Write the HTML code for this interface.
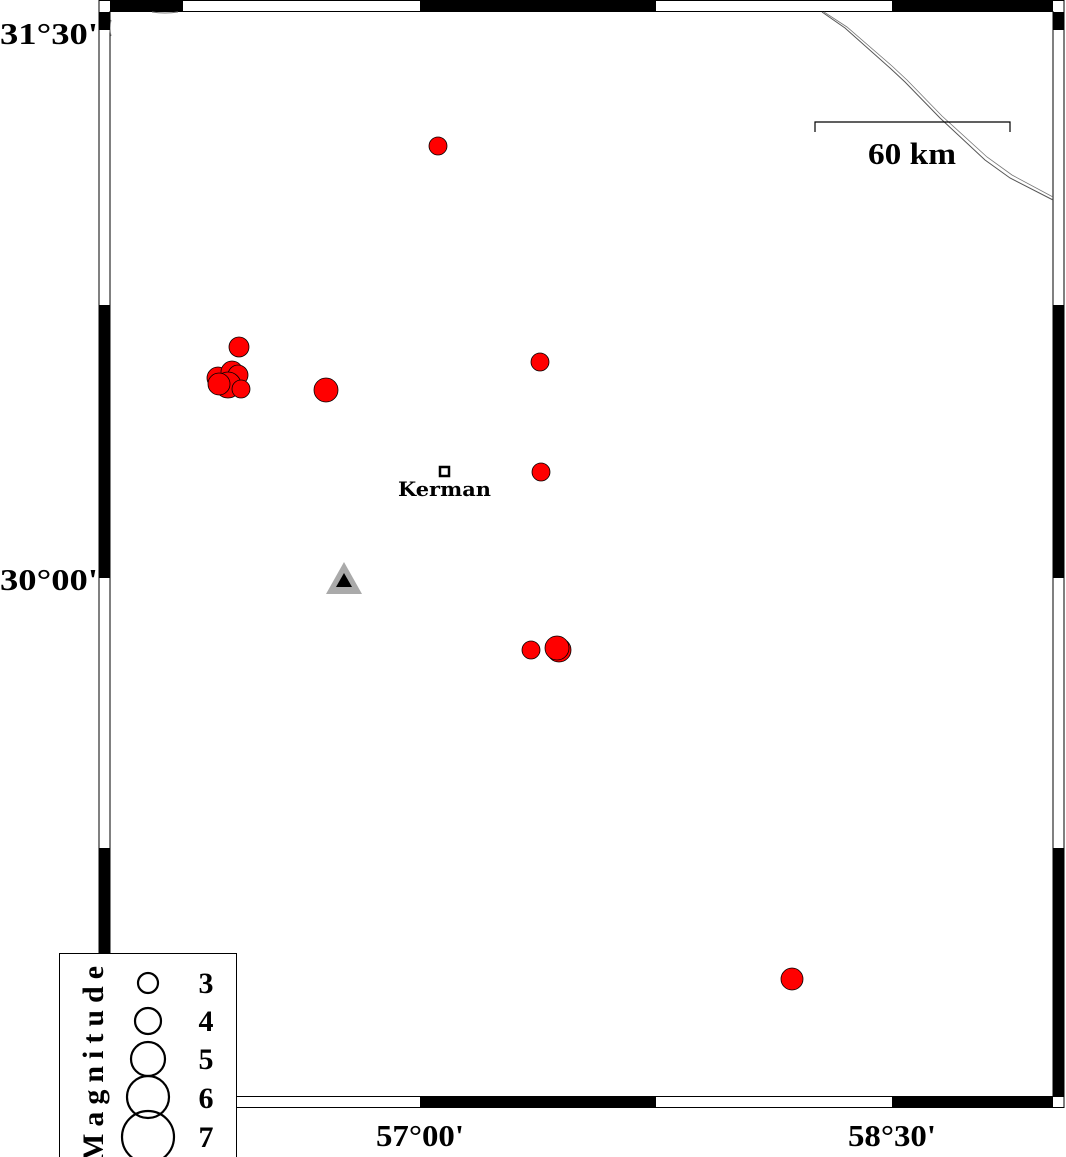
<!DOCTYPE html>
<html><head><meta charset="utf-8"><style>html,body{margin:0;padding:0;background:#fff}svg{display:block}.lab{font-family:"Liberation Serif",serif;font-weight:bold}</style></head>
<body>
<svg width="1066" height="1157" viewBox="0 0 1066 1157" xmlns="http://www.w3.org/2000/svg">
<rect width="1066" height="1157" fill="#fff"/>
<g stroke="#000" stroke-width="1">
<rect x="99" y="0.5" width="965" height="1107" fill="#fff"/>
<rect x="110" y="11.5" width="943" height="1085" fill="none"/>
</g>
<path d="M822,12 L845,28 L890,68 L905,82 L940,118 L985,160 L1010,178 L1053,200" fill="none" stroke="#555" stroke-width="1"/>
<path d="M824,12 L847,27 L892,66 L907,80 L942,116 L987,157 L1012,175 L1053,197" fill="none" stroke="#777" stroke-width="0.8"/>
<path d="M152,12 Q165,14 178,12" fill="none" stroke="#777" stroke-width="1"/>
<path d="M111,20 Q109,28 111,36" fill="none" stroke="#777" stroke-width="1"/>
<rect x="110" y="1" width="73" height="10" fill="#000"/>
<rect x="420" y="1" width="236" height="10" fill="#000"/>
<rect x="892" y="1" width="161" height="10" fill="#000"/>
<rect x="110" y="1097" width="73" height="10" fill="#000"/>
<rect x="420" y="1097" width="236" height="10" fill="#000"/>
<rect x="892" y="1097" width="161" height="10" fill="#000"/>
<rect x="99" y="12" width="11" height="18" fill="#000"/>
<rect x="99" y="305" width="11" height="273" fill="#000"/>
<rect x="99" y="848" width="11" height="249" fill="#000"/>
<rect x="1053" y="12" width="11" height="18" fill="#000"/>
<rect x="1053" y="305" width="11" height="273" fill="#000"/>
<rect x="1053" y="848" width="11" height="249" fill="#000"/>
<g class="lab" font-size="31" fill="#000">
<text x="0" y="44" textLength="98" lengthAdjust="spacingAndGlyphs">31°30'</text>
<text x="0" y="590" textLength="98" lengthAdjust="spacingAndGlyphs">30°00'</text>
<text x="376" y="1146" textLength="88" lengthAdjust="spacingAndGlyphs">57°00'</text>
<text x="848" y="1146" textLength="88" lengthAdjust="spacingAndGlyphs">58°30'</text>
<text x="868" y="164" textLength="88" lengthAdjust="spacingAndGlyphs">60 km</text>
</g>
<path d="M815,132 V122 H1010 V132" fill="none" stroke="#000" stroke-width="1.2"/>
<g fill="#f00" stroke="#000" stroke-width="0.8">
<circle cx="438" cy="146" r="9"/>
<circle cx="239" cy="347" r="10"/>
<circle cx="218" cy="378" r="11"/>
<circle cx="232" cy="372" r="11"/>
<circle cx="238" cy="375" r="10"/>
<circle cx="228" cy="385" r="13"/>
<circle cx="219" cy="384" r="11"/>
<circle cx="241" cy="389" r="9"/>
<circle cx="326" cy="390" r="12"/>
<circle cx="540" cy="362" r="9"/>
<circle cx="541" cy="472" r="9"/>
<circle cx="531" cy="650" r="9"/>
<circle cx="559" cy="650" r="12"/>
<circle cx="557" cy="648" r="12"/>
<circle cx="792" cy="979" r="11"/>
</g>
<rect x="440" y="467" width="9" height="9" fill="#fff" stroke="#000" stroke-width="2.5"/>
<text x="398" y="496" style="font-family:'DejaVu Serif',serif;font-weight:bold" font-size="20" textLength="93" lengthAdjust="spacingAndGlyphs">Kerman</text>
<polygon points="344,562 326,594 362,594" fill="#aaa"/>
<polygon points="344,573 336,587 352,587" fill="#000"/>
<rect x="59.5" y="953.5" width="177" height="220" fill="#fff" stroke="#000" stroke-width="1"/>
<g fill="none" stroke="#000" stroke-width="2.2">
<circle cx="148" cy="983" r="10"/>
<circle cx="148" cy="1021" r="13"/>
<circle cx="148" cy="1059" r="17"/>
<circle cx="148" cy="1097" r="21"/>
<circle cx="148" cy="1137" r="26"/>
</g>
<g class="lab" font-size="30">
<text x="206" y="993" text-anchor="middle">3</text>
<text x="206" y="1031" text-anchor="middle">4</text>
<text x="206" y="1069" text-anchor="middle">5</text>
<text x="206" y="1108" text-anchor="middle">6</text>
<text x="206" y="1147" text-anchor="middle">7</text>
<text transform="translate(103,1162) rotate(-90)" letter-spacing="7">Magnitude</text>
</g>
</svg>
</body></html>
